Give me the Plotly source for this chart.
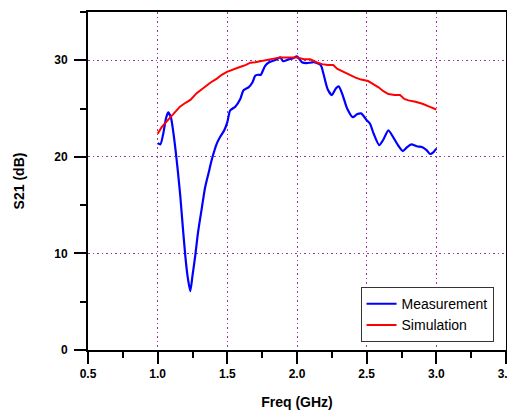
import plotly.graph_objects as go

meas_f = [1.00, 1.02, 1.04, 1.06, 1.075, 1.095, 1.11, 1.126, 1.145, 1.162, 1.18, 1.198, 1.215, 1.234,
          1.25, 1.27, 1.29, 1.318, 1.34, 1.365, 1.39, 1.425, 1.45, 1.478, 1.50, 1.52, 1.557, 1.593,
          1.616, 1.652, 1.68, 1.70, 1.72, 1.74, 1.77, 1.80, 1.84, 1.88, 1.90, 1.94, 1.97, 2.00,
          2.035, 2.07, 2.12, 2.17, 2.19, 2.22, 2.25, 2.28, 2.30, 2.33, 2.36, 2.40, 2.43, 2.46,
          2.50, 2.525, 2.55, 2.59, 2.62, 2.656, 2.70, 2.73, 2.76, 2.79, 2.82, 2.86, 2.90, 2.93,
          2.955, 2.98, 3.00]
meas_v = [21.4, 21.3, 22.4, 24.0, 24.6, 24.1, 22.8, 21.0, 18.5, 16.0, 12.8, 9.8, 7.6, 6.1,
          7.7, 9.8, 12.2, 14.8, 16.8, 18.3, 19.8, 21.4, 22.1, 22.75, 23.6, 24.8, 25.2, 26.0,
          26.9, 27.2, 27.7, 28.4, 28.5, 28.5, 29.4, 29.8, 30.0, 30.3, 29.9, 30.1, 30.2, 30.4,
          29.8, 29.7, 29.8, 29.5, 28.6, 27.0, 26.4, 27.1, 27.3, 26.3, 25.0, 24.1, 24.4, 24.5,
          23.8, 23.4, 22.4, 21.2, 21.8, 22.75, 21.8, 21.1, 20.6, 21.0, 21.3, 21.1, 21.0, 20.7,
          20.3, 20.5, 20.85]

sim_f = [1.00, 1.02, 1.03, 1.06, 1.09, 1.12, 1.16, 1.20, 1.235, 1.28, 1.33, 1.38, 1.425, 1.46,
         1.497, 1.54, 1.59, 1.63, 1.665, 1.70, 1.74, 1.80, 1.88, 1.94, 2.00, 2.05, 2.095, 2.14,
         2.18, 2.22, 2.26, 2.29, 2.32, 2.37, 2.42, 2.46, 2.51, 2.55, 2.585, 2.62, 2.656, 2.70,
         2.74, 2.77, 2.80, 2.85, 2.90, 2.95, 3.00]
sim_v = [22.4, 22.9, 23.1, 23.6, 24.1, 24.6, 25.2, 25.6, 25.9, 26.6, 27.2, 27.7, 28.1, 28.5,
         28.8, 29.0, 29.3, 29.5, 29.75, 29.8, 29.9, 30.1, 30.3, 30.3, 30.3, 30.1, 30.1, 29.8,
         29.6, 29.5, 29.5, 29.1, 28.9, 28.5, 28.2, 28.0, 27.85, 27.5, 27.2, 26.8, 26.5, 26.4,
         26.4, 26.0, 25.85, 25.7, 25.5, 25.2, 24.9]

x_ticks = [0.5, 1.0, 1.5, 2.0, 2.5, 3.0, 3.5]
x_labels = ["0.5", "1.0", "1.5", "2.0", "2.5", "3.0", "3.5"]
y_ticks = [0, 10, 20, 30]

FONT = "Liberation Sans, Arial, sans-serif"
GRID = "#a030a8"

fig = go.Figure()
fig.add_trace(go.Scatter(x=meas_f, y=meas_v, mode="lines", name="Measurement",
                         line=dict(color="#0000ff", width=2.2, shape="spline", smoothing=0.6)))
fig.add_trace(go.Scatter(x=sim_f, y=sim_v, mode="lines", name="Simulation",
                         line=dict(color="#ff0000", width=2)))

axis_common = dict(
    showline=True, linecolor="black", linewidth=2, mirror=True,
    ticks="outside", ticklen=12, tickwidth=2, tickcolor="black",
    showgrid=True, gridcolor=GRID, gridwidth=1, griddash="1.5px,3px",
    zeroline=False, automargin=False,
    tickfont=dict(family=FONT, size=12, color="black", weight="bold"),
)

fig.update_xaxes(range=[0.5, 3.5], tickvals=x_ticks, ticktext=x_labels,
                 ticklabeloverflow="allow",
                 minor=dict(ticks="outside", ticklen=6, tickwidth=2, tickcolor="black",
                            dtick=0.25, tick0=0.5, showgrid=False),
                 title=dict(text="Freq (GHz)", standoff=22,
                            font=dict(family=FONT, size=14, color="black", weight="bold")),
                 **axis_common)
fig.update_yaxes(range=[0, 35], tickvals=y_ticks,
                 minor=dict(ticks="outside", ticklen=6, tickwidth=2, tickcolor="black",
                            dtick=5, tick0=0, showgrid=False),
                 title=dict(text="S21 (dB)", standoff=26,
                            font=dict(family=FONT, size=14, color="black", weight="bold")),
                 ticklabelstandoff=4,
                 **axis_common)

# page body has an 8px default margin; size/margins compensate for it
fig.update_layout(
    width=507, height=402,
    margin=dict(l=80, r=9, t=4, b=60),
    plot_bgcolor="white", paper_bgcolor="white",
    showlegend=True,
    legend=dict(x=0.652, y=0.186, xanchor="left", yanchor="top",
                bgcolor="white", bordercolor="#333333", borderwidth=1,
                font=dict(family=FONT, size=14, color="black"),
                tracegroupgap=0, itemwidth=30),
)

fig.write_html("out.html")
